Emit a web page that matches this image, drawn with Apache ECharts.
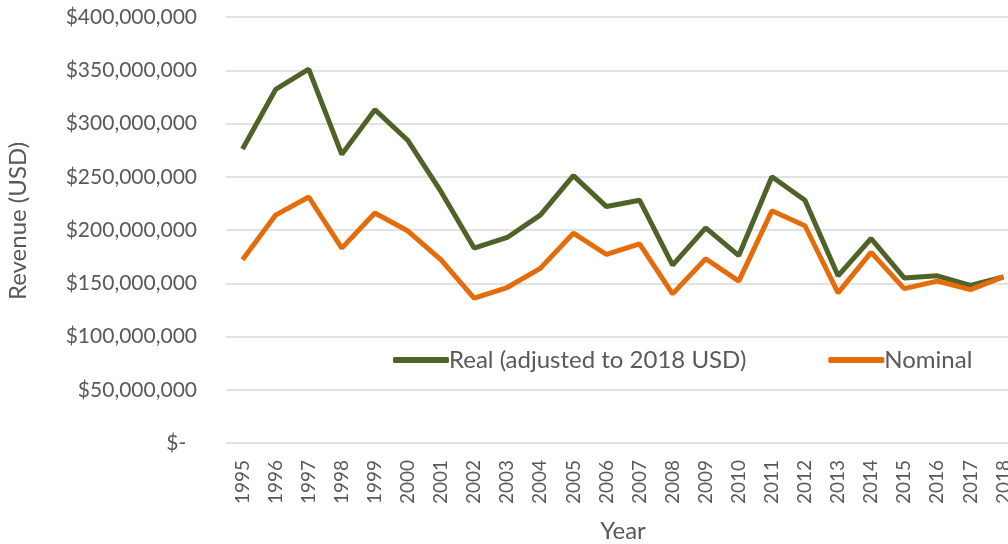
<!DOCTYPE html>
<html>
<head>
<meta charset="utf-8">
<script src="https://cdn.jsdelivr.net/npm/echarts@6/dist/echarts.min.js"></script>
<style>
  html, body { margin: 0; padding: 0; background: #fff; }
  #chart { width: 1008px; height: 544px; }
</style>
</head>
<body>
<div id="chart"></div>
<script>
// years on the x axis
const years = ['1995','1996','1997','1998','1999','2000','2001','2002','2003','2004','2005','2006',
  '2007','2008','2009','2010','2011','2012','2013','2014','2015','2016','2017','2018'];
// revenue adjusted to 2018 USD
const realRevenue = [276e6, 332e6, 351e6, 271e6, 313e6, 284e6, 236e6, 183e6, 193e6, 214e6, 251e6, 222e6,
  228e6, 167e6, 202e6, 176e6, 250e6, 228e6, 157e6, 192e6, 155e6, 157e6, 148e6, 156e6];
// nominal revenue
const nominalRevenue = [172e6, 214e6, 231e6, 183e6, 216e6, 199e6, 172e6, 136e6, 146e6, 164e6, 197e6, 177e6,
  187e6, 140e6, 173e6, 152e6, 218e6, 204e6, 141e6, 179e6, 145e6, 152e6, 144e6, 156e6];

const font = 'Lato, "Open Sans", sans-serif';
const grey = '#595959';

const chart = echarts.init(document.getElementById('chart'));
chart.setOption({
  animation: false,
  textStyle: { fontFamily: font },
  grid: { left: 226, right: -12, top: 17, bottom: 101, containLabel: false, outerBoundsMode: 'none' },
  legend: {
    left: 388,
    top: 343,
    icon: 'roundRect',
    itemWidth: 56,
    itemHeight: 6,
    itemGap: 82,
    textStyle: { fontFamily: font, fontSize: 24, color: grey, padding: [0, 0, 0, -5] },
    data: ['Real (adjusted to 2018 USD)', 'Nominal']
  },
  xAxis: {
    type: 'category',
    data: years,
    boundaryGap: true,
    name: 'Year',
    nameLocation: 'middle',
    nameGap: 76,
    nameTextStyle: { fontFamily: font, fontSize: 24, color: grey },
    axisLine: { show: false },
    axisTick: { show: false },
    axisLabel: { rotate: 90, margin: 17, fontSize: 19, color: grey, fontFamily: font }
  },
  yAxis: {
    type: 'value',
    min: 0,
    max: 400e6,
    interval: 50e6,
    name: 'Revenue (USD)',
    nameLocation: 'middle',
    nameGap: 196,
    nameTextStyle: { fontFamily: font, fontSize: 24, color: grey, padding: [0, 0, 0, 18] },
    axisLine: { show: false },
    axisTick: { show: false },
    splitLine: { lineStyle: { color: '#d9d9d9', width: 1.5 } },
    axisLabel: {
      margin: 29,
      fontSize: 21,
      color: grey,
      fontFamily: font,
      formatter: v => v === 0 ? '$-  ' : '$' + v.toLocaleString('en-US')
    }
  },
  series: [
    {
      name: 'Real (adjusted to 2018 USD)',
      type: 'line',
      data: realRevenue,
      symbol: 'none',
      color: '#4f6228',
      lineStyle: { width: 5, color: '#4f6228' }
    },
    {
      name: 'Nominal',
      type: 'line',
      data: nominalRevenue,
      symbol: 'none',
      color: '#e46c0a',
      lineStyle: { width: 5, color: '#e46c0a' }
    }
  ]
});
</script>
</body>
</html>
